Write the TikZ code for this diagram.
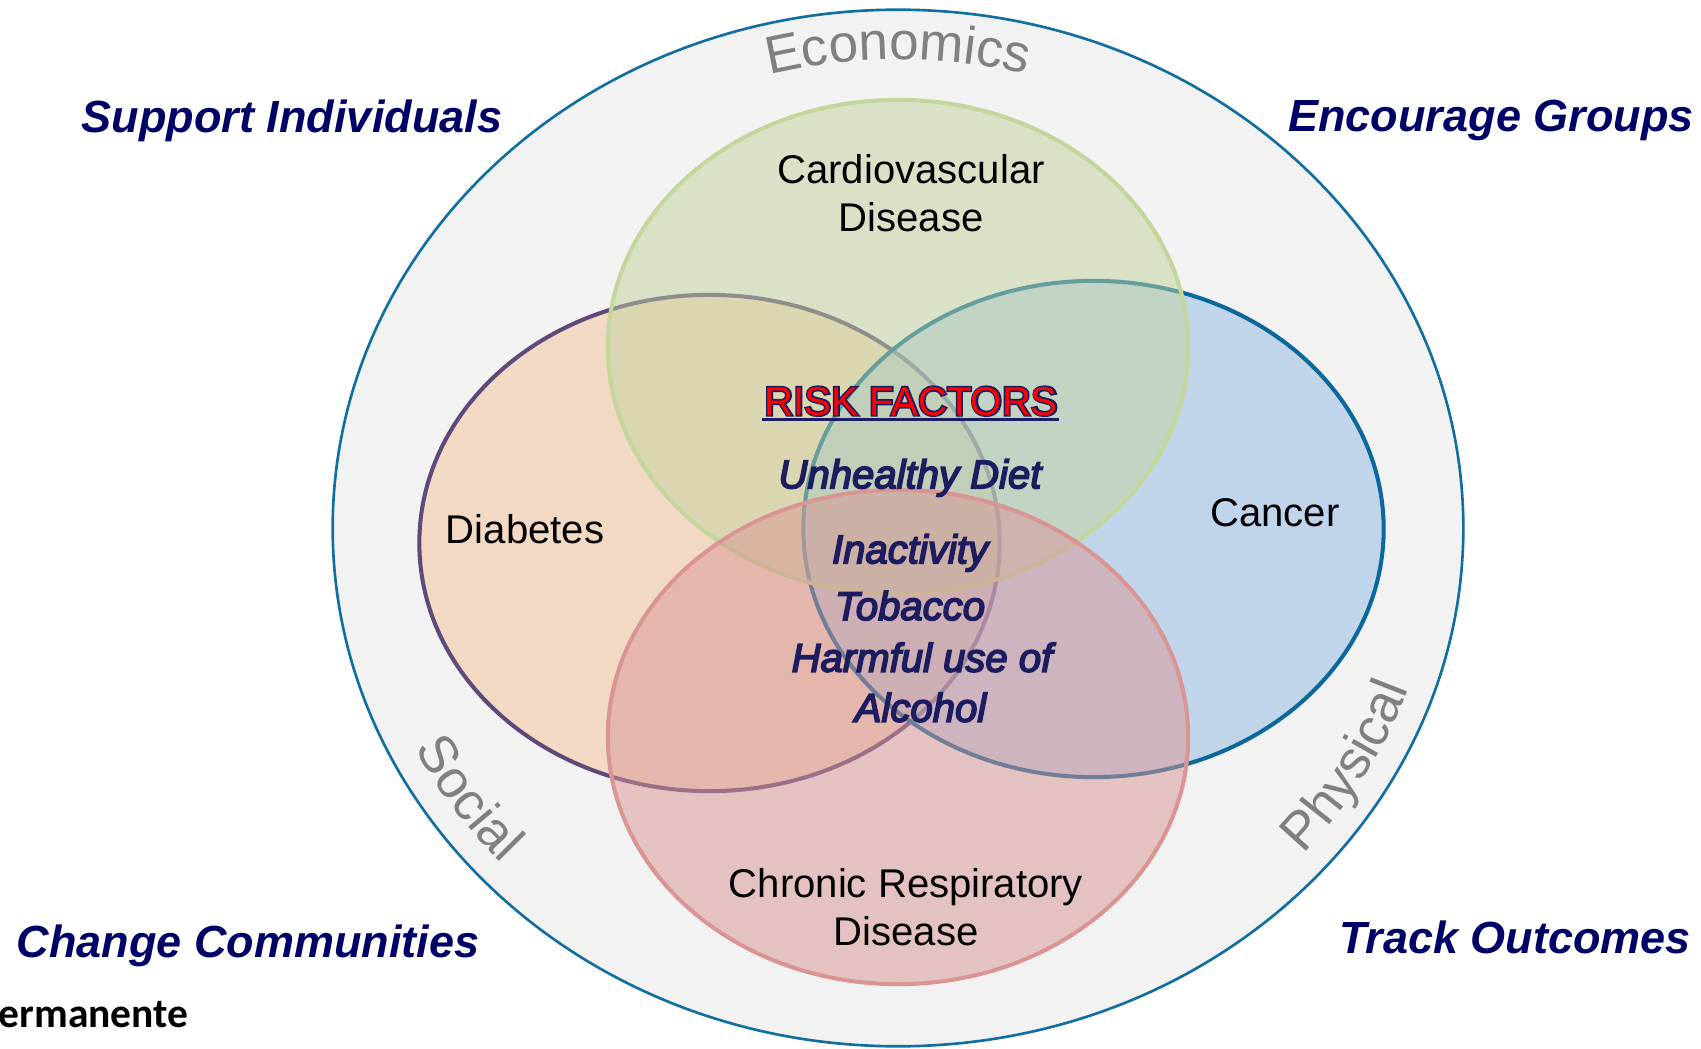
\documentclass[tikz,border=0pt]{standalone}
\usepackage{fontspec}
\setmainfont{Liberation Sans}
\newfontfamily\outlinefont{Liberation Sans}[FakeBold=8]
\newfontfamily\itemfont{Liberation Sans}[FakeBold=4]
\newfontfamily\calibfont{Carlito}
\usetikzlibrary{decorations.text,calc}
\definecolor{navytext}{RGB}{0,0,102}
\definecolor{itemnavy}{RGB}{28,28,96}
\definecolor{outerfill}{RGB}{242,242,242}
\definecolor{outerline}{RGB}{16,110,160}
\definecolor{orangefill}{RGB}{242,194,150}
\definecolor{orangeline}{RGB}{95,73,122}
\definecolor{greenfill}{RGB}{194,212,158}
\definecolor{greenline}{RGB}{195,214,155}
\definecolor{bluefill}{RGB}{146,186,228}
\definecolor{blueline}{RGB}{10,104,156}
\definecolor{redfill}{RGB}{218,148,148}
\definecolor{redline}{RGB}{217,149,148}
\definecolor{curvegray}{RGB}{128,128,128}
\definecolor{riskred}{RGB}{255,0,0}
\newcommand\curvefont{\fontsize{15.1}{18}\selectfont}
\begin{document}
\begin{tikzpicture}[x=0.01cm,y=0.01cm,
  venn/.style={fill opacity=0.5, draw opacity=1, line width=1.15pt},
  corner/.style={anchor=base, inner sep=0pt, text=navytext,
    font=\fontsize{12.8}{15}\selectfont\bfseries\itshape},
  lab/.style={anchor=base, inner sep=0pt, text=black,
    font=\fontsize{11.4}{13.7}\selectfont},
  item/.style={anchor=base, inner sep=0pt, text=itemnavy,
    font=\itemfont\itshape\fontsize{11.4}{13.7}\selectfont},
  curved/.style={decorate, decoration={text along path, text={#1},
    text align=center, text color=curvegray}}
]
\useasboundingbox (0,0) rectangle (1701,1048);
\fill[white] (0,0) rectangle (1701,1048);
\coordinate (C) at (898,520);
% outer ellipse
\draw[fill=outerfill, draw=outerline, line width=0.75pt] (C) ellipse [x radius=5.65cm, y radius=5.18cm];
% venn ellipses
\draw[venn, fill=orangefill, draw=orangeline] (709.5,505) ellipse [x radius=2.9cm, y radius=2.48cm];
\draw[venn, fill=bluefill, draw=blueline] (1093.5,519) ellipse [x radius=2.9cm, y radius=2.48cm];
\draw[venn, fill=greenfill, draw=greenline] (898,701) ellipse [x radius=2.9cm, y radius=2.47cm];
\draw[venn, fill=redfill, draw=redline] (898,311) ellipse [x radius=2.9cm, y radius=2.47cm];
% curved texts
\path[curved={|\curvefont|Economics}] ($(C)+(110:5.15cm and 4.68cm)$) arc[start angle=110, end angle=70, x radius=5.15cm, y radius=4.68cm];
\path[curved={|\curvefont|Social}] ($(C)+(195:5.40cm and 4.93cm)$) arc[start angle=195, end angle=234, x radius=5.40cm, y radius=4.93cm];
\path[curved={|\curvefont|Physical}] ($(C)+(310:5.40cm and 4.93cm)$) arc[start angle=310, end angle=350, x radius=5.40cm, y radius=4.93cm];
% corner labels
\node[corner] (si) at (292,915) {Support Individuals};
\node[corner] (eg) at (1491,916) {Encourage Groups};
\node[corner] (cc) at (248,91) {Change Communities};
\node[corner] (to) at (1515,95) {Track Outcomes};
\node[anchor=base west, inner sep=0pt, font=\calibfont\bfseries\fontsize{11.8}{14}\selectfont] (km) at (-2,21) {ermanente};
% disease labels
\node[lab] (cv1) at (911,864) {Cardiovascular};
\node[lab] (cv2) at (911,816) {Disease};
\node[lab] (dia) at (525,504.5) {Diabetes};
\node[lab] (can) at (1275,522) {Cancer};
\node[lab] (cr1) at (906,151) {Chronic Respiratory};
\node[lab] (cr2) at (906,103) {Disease};
% risk factors
\node[anchor=base, inner sep=0pt, text=itemnavy, font=\outlinefont\fontsize{11.4}{13.7}\selectfont] (rfo) at (911,633) {RISK FACTORS};
\node[anchor=base, inner sep=0pt, text=riskred, font=\fontsize{11.4}{13.7}\selectfont] (rf) at (911,633) {RISK FACTORS};
\draw[itemnavy, line width=0.8pt] ($(rf.base west)+(-2,-4.5)$) -- ($(rf.base east)+(1,-4.5)$);
\node[item] (i1) at (910,559.7) {Unhealthy Diet};
\node[item] (i2) at (910,484.7) {Inactivity};
\node[item] (i3) at (910,428) {Tobacco};
\node[item] (i4) at (922,376.3) {Harmful use of};
\node[item] (i5) at (920.5,326.3) {Alcohol};
\end{tikzpicture}
\end{document}
